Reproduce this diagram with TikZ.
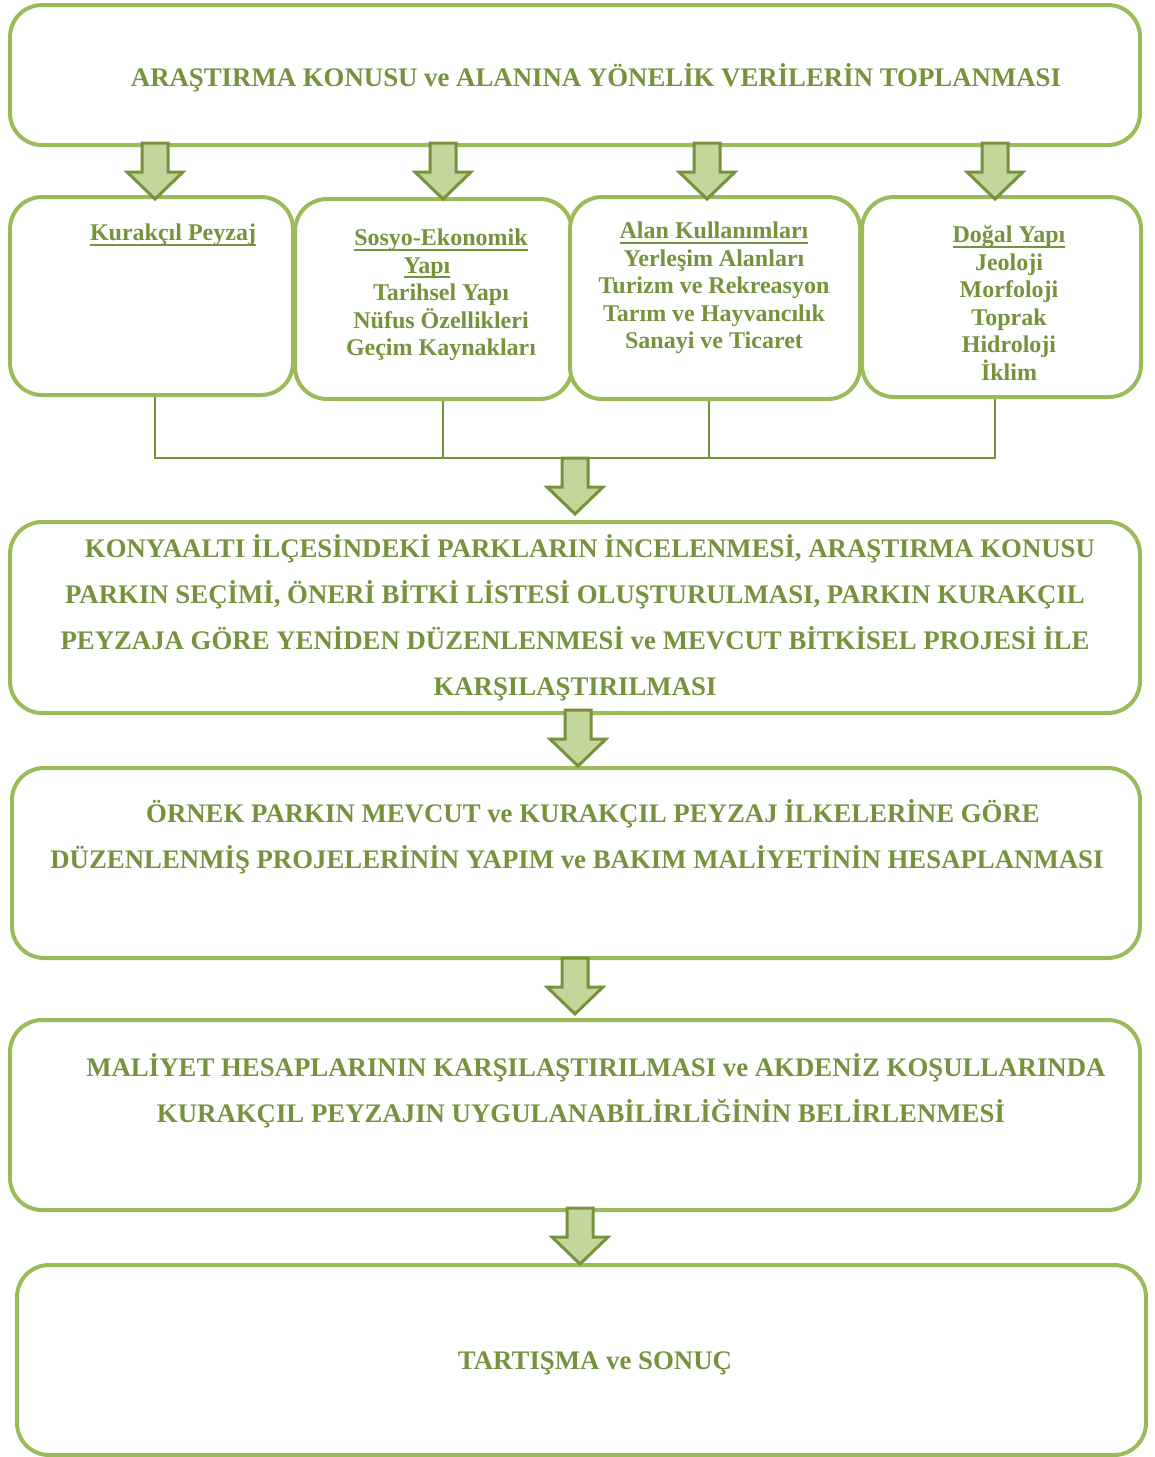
\documentclass[tikz,border=0pt]{standalone}
\usepackage{fontspec}
\setmainfont{Liberation Serif}
\usetikzlibrary{calc,positioning}
\definecolor{boxgreen}{HTML}{9BBB59}
\definecolor{textgreen}{HTML}{76923C}
\definecolor{arrowfill}{HTML}{C3D69B}
\newcommand{\ulbold}[1]{\leavevmode\setbox0\hbox{#1}\rlap{\rule[-2.6pt]{\wd0}{1.1pt}}\box0}
\tikzset{
    mybox/.style={draw=boxgreen,line width=2pt,rounded corners=16pt,fill=white,inner sep=0pt},
    mytext/.style={text=textgreen,font=\fontsize{13.4}{23}\selectfont\bfseries,align=center,inner sep=0pt},
    mysmall/.style={text=textgreen,font=\fontsize{12}{13.75}\selectfont\bfseries,align=center,inner sep=0pt},
    mylink/.style={draw=textgreen,line width=1pt},
    myarrow/.style={draw=textgreen,fill=arrowfill,line width=1.5pt,line join=miter},
    pics/downarrow/.style={code={
        \draw[myarrow] (-13,0) -- (13,0) -- (13,29) -- (28,29) -- (0,56) -- (-28,29) -- (-13,29) -- cycle;}}
}

\begin{document}
\begin{tikzpicture}[x=0.5pt,y=-0.5pt]
  \useasboundingbox (0,0) rectangle (1155,1457);
  % boxes
  \node[mybox,minimum width=565pt,minimum height=70pt] (b1) at (575,75) {};
  \node[mybox,minimum width=141.5pt,minimum height=99pt] (bA) at (151.5,296) {};
  \node[mybox,minimum width=138.5pt,minimum height=100pt] (bB) at (433.5,299) {};
  \node[mybox,minimum width=145pt,minimum height=101pt] (bC) at (715,298) {};
  \node[mybox,minimum width=139.5pt,minimum height=100pt] (bD) at (1001.5,297) {};
  \node[mybox,minimum width=565pt,minimum height=95.5pt] (b3) at (575,617.5) {};
  \node[mybox,minimum width=564pt,minimum height=95pt] (b4) at (576,863) {};
  \node[mybox,minimum width=565pt,minimum height=95pt] (b5) at (575,1115) {};
  \node[mybox,minimum width=564.5pt,minimum height=95pt] (b6) at (581.5,1360) {};

  % texts
  \node[mytext] (t1) at (596,78) {ARAŞTIRMA KONUSU ve ALANINA YÖNELİK VERİLERİN TOPLANMASI};
  \node[mysmall] (tA) at (173,235) {\ulbold{Kurakçıl Peyzaj}};
  \node[mysmall] (tB) at (441,295) {\ulbold{Sosyo-Ekonomik}\\\ulbold{Yapı}\rule{14pt}{0pt}\\Tarihsel Yapı\\Nüfus Özellikleri\\Geçim Kaynakları};
  \node[mysmall] (tC) at (714,288) {\ulbold{Alan Kullanımları}\\Yerleşim Alanları\\Turizm ve Rekreasyon\\Tarım ve Hayvancılık\\Sanayi ve Ticaret};
  \node[mysmall] (tD) at (1009,303) {\ulbold{Doğal Yapı}\\Jeoloji\\Morfoloji\\Toprak\\Hidroloji\\İklim};
  \node[mytext] (t3) at (575,618) {\hspace*{15pt}KONYAALTI İLÇESİNDEKİ PARKLARIN İNCELENMESİ, ARAŞTIRMA KONUSU\\PARKIN SEÇİMİ, ÖNERİ BİTKİ LİSTESİ OLUŞTURULMASI, PARKIN KURAKÇIL\\PEYZAJA GÖRE YENİDEN DÜZENLENMESİ ve MEVCUT BİTKİSEL PROJESİ İLE\\KARŞILAŞTIRILMASI};
  \node[mytext] (t4) at (577,837) {\hspace*{16pt}ÖRNEK PARKIN MEVCUT ve KURAKÇIL PEYZAJ İLKELERİNE GÖRE\\DÜZENLENMİŞ PROJELERİNİN YAPIM ve BAKIM MALİYETİNİN HESAPLANMASI};
  \node[mytext] (t5) at (581,1091) {\hspace*{15pt}MALİYET HESAPLARININ KARŞILAŞTIRILMASI ve AKDENİZ KOŞULLARINDA\\KURAKÇIL PEYZAJIN UYGULANABİLİRLİĞİNİN BELİRLENMESİ};
  \node[mytext] (t6) at (595,1363) {TARTIŞMA ve SONUÇ};

  % collecting lines
  \coordinate (bus) at (575,458);
  \coordinate (sA) at ([xshift=1.75pt]bA.south);
  \coordinate (sB) at ([xshift=4.75pt]bB.south);
  \coordinate (sC) at ([xshift=-3pt]bC.south);
  \coordinate (sD) at ([xshift=-3.25pt]bD.south);
  \draw[mylink] (sA) |- (sD |- bus) -- (sD);
  \draw[mylink] (sB) -- (sB |- bus);
  \draw[mylink] (sC) -- (sC |- bus);

  % block arrows
  \pic at (155,143) {downarrow};
  \pic at (443,143) {downarrow};
  \pic at (707,143) {downarrow};
  \pic at (995,143) {downarrow};
  \pic at (bus) {downarrow};
  \pic at (578,710) {downarrow};
  \pic at (575,958) {downarrow};
  \pic at (580,1208) {downarrow};
\end{tikzpicture}
\end{document}
